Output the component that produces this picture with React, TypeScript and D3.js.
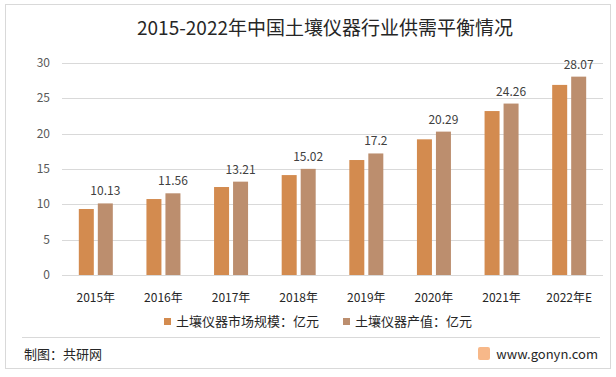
import React from "react";
import * as d3 from "d3";

const categories = ["2015年", "2016年", "2017年", "2018年", "2019年", "2020年", "2021年", "2022年E"];
const marketSize = [9.34, 10.75, 12.45, 14.14, 16.27, 19.2, 23.2, 26.9];
const outputValue = [10.13, 11.56, 13.21, 15.02, 17.2, 20.29, 24.26, 28.07];
const yTicks = [0, 5, 10, 15, 20, 25, 30];
const seriesNames = ["土壤仪器市场规模：亿元", "土壤仪器产值：亿元"];
const colors = ["#D38B4F", "#BC8E6E"];

export default function App() {
  const W = 616, H = 377;
  const left = 62, right = 603, top = 63, bottom = 275;
  const x = d3.scaleBand<string>().domain(categories).range([left, right]).paddingInner(0).paddingOuter(0);
  const y = d3.scaleLinear().domain([0, 30]).range([bottom, top]);
  const barW = 15, gap = 4;
  const font = "'Microsoft YaHei', 'Noto Sans CJK SC', sans-serif";
  return (
    <svg width={W} height={H} style={{ position: "absolute", left: 0, top: 0, background: "#fff" }} fontFamily={font}>
      <rect x={0} y={0} width={W} height={H} fill="#fff" />
      <rect x={5.5} y={4.5} width={605} height={364} fill="none" stroke="#D9D9D9" strokeWidth={1} />
      <text x={325} y={35} textAnchor="middle" fontSize={19} fill="#262626">2015-2022年中国土壤仪器行业供需平衡情况</text>
      {yTicks.map((t) => (
        <g key={t}>
          <line x1={left} x2={right} y1={Math.round(y(t)) + 0.5} y2={Math.round(y(t)) + 0.5} stroke="#D9D9D9" strokeWidth={1} />
          <text x={50} y={y(t) + 4} textAnchor="end" fontSize={12} fill="#595959">{t}</text>
        </g>
      ))}
      {categories.map((c, i) => {
        const cx = (x(c) as number) + x.bandwidth() / 2;
        const x1 = cx - gap / 2 - barW;
        const x2 = cx + gap / 2;
        return (
          <g key={c}>
            <rect x={x1} y={y(marketSize[i])} width={barW} height={bottom - y(marketSize[i])} fill={colors[0]} />
            <rect x={x2} y={y(outputValue[i])} width={barW} height={bottom - y(outputValue[i])} fill={colors[1]} />
            <text x={x2 + barW / 2} y={y(outputValue[i]) - 8} textAnchor="middle" fontSize={12} fill="#404040">{outputValue[i]}</text>
            <text x={cx} y={302} textAnchor="middle" fontSize={12} fill="#262626">{c}</text>
          </g>
        );
      })}
      <rect x={164} y={318} width={7} height={7} fill={colors[0]} />
      <text x={176} y={326} fontSize={13} fill="#262626">{seriesNames[0]}</text>
      <rect x={343} y={318} width={7} height={7} fill={colors[1]} />
      <text x={355} y={326} fontSize={13} fill="#262626">{seriesNames[1]}</text>
      <line x1={22} x2={600} y1={337.5} y2={337.5} stroke="#D9D9D9" strokeWidth={1} />
      <text x={24} y={359} fontSize={13} fill="#262626">制图：共研网</text>
      <rect x={478} y={347} width={12} height={13} rx={2} fill="#F5A66B" opacity={0.8} />
      <text x={598} y={359} textAnchor="end" fontSize={13} fill="#262626">www.gonyn.com</text>
    </svg>
  );
}
